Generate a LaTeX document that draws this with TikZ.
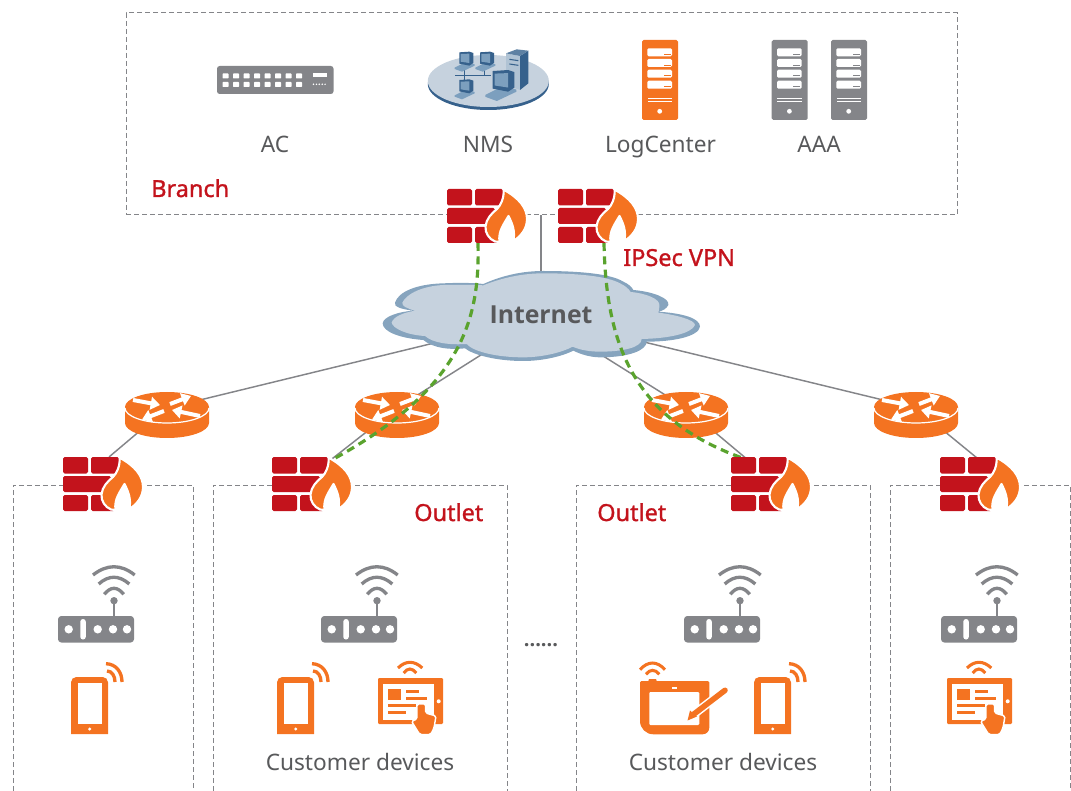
\documentclass[tikz,border=0pt]{standalone}
\usepackage{fontspec}
\setmainfont{Noto Sans}
\newfontfamily\medf[FakeBold=1.2]{Noto Sans}
\newfontfamily\boldf{Open Sans}
\usetikzlibrary{arrows.meta}
\definecolor{hworange}{HTML}{F47321}
\definecolor{hwred}{HTML}{C3131C}
\definecolor{hwgrey}{HTML}{848589}
\definecolor{hwtext}{HTML}{58595B}
\definecolor{hwgreen}{HTML}{5AA32E}
\definecolor{cloudlight}{HTML}{C6D2DE}
\definecolor{clouddark}{HTML}{86A4BE}
\definecolor{nmsdark}{HTML}{36618C}
\definecolor{nmsmid}{HTML}{7C9FBE}
\definecolor{nmslight}{HTML}{C6D2DE}
\tikzset{
 dashbox/.style={draw=hwgrey,line width=.75pt,dash pattern=on 3.4pt off 2.6pt},
 link/.style={draw=hwgrey,line width=1.1pt},
 vpn/.style={draw=hwgreen,line width=2.4pt,dash pattern=on 6pt off 4pt},
 lbl/.style={text=hwtext,font=\fontsize{17}{20}\selectfont,inner sep=0pt,anchor=base},
 redlbl/.style={text=hwred,font=\medf\fontsize{17.6}{20}\selectfont,inner sep=0pt,anchor=base west},
 wave/.style={line width=2.5pt,line cap=butt},
 fw/.pic={
  \begin{scope}[rounded corners=1.2pt]
  \fill[hwred] (0,0) rectangle (25,16.5);
  \fill[hwred] (28,0) rectangle (56,16.5);
  \fill[hwred] (0,19) rectangle (48,35);
  \fill[hwred] (0,38) rectangle (25,54);
  \fill[hwred] (28,38) rectangle (52,54);
  \end{scope}
  \filldraw[hworange,draw=white,line width=1.6pt,line join=round]
   (56.7,.7) .. controls (72,9) and (80,19) .. (80,30)
   .. controls (80,40) and (74,47) .. (66.5,52)
   .. controls (68,42) and (66,36) .. (61.5,27)
   .. controls (57,35) and (51,42) .. (52.5,53) -- (48,52.5)
   .. controls (42,50) and (38,44) .. (38.5,37.5)
   .. controls (39,30) and (45,24) .. (50,20)
   .. controls (54,16) and (57,9) .. (56.7,.7) -- cycle;
 },
 rtr/.pic={
  \fill[hworange] (-42,0) arc[start angle=180,end angle=360,x radius=42,y radius=15]
    -- (42,16) arc[start angle=0,end angle=180,x radius=42,y radius=15] -- cycle;
  \draw[white,line width=.9pt] (-42,1) arc[start angle=180,end angle=0,x radius=42,y radius=15];
  \begin{scope}[white,line width=3pt,-{Triangle[length=7pt,width=9.5pt]}]
   \draw (-34,-7) -- (-7,-2);
   \draw (33,9) -- (5,3);
   \draw (3,-3) -- (24,-11);
   \draw (-3,4) -- (-25,12.5);
  \end{scope}
 },
 srv/.pic={
  \fill[pic actions,rounded corners=1.2pt] (0,0) rectangle (36,80);
  \foreach \yy in {8.3,19,29.7,40.7}{
   \fill[white,rounded corners=1pt] (5.3,\yy) rectangle (30,\yy+8);
   \fill[pic actions] (21.7,\yy+5.6) rectangle (28.7,\yy+6.6);
  }
  \fill[white] (5.5,58) rectangle (30,59);
  \fill[white] (5.5,61) rectangle (30,62);
  \fill[white] (17.7,71.3) circle (2.4);
 },
 ap/.pic={
  \fill[hwgrey,rounded corners=2.5pt] (0,0) rectangle (76,26.5);
  \foreach \xx in {10.7,39.7,55,69}{\fill[white] (\xx,13.3) circle (4.2);}
  \fill[white,rounded corners=2pt] (22.3,3) rectangle (27.8,23.5);
  \draw[hwgrey,line width=1.1pt] (56,0) -- (56,-13);
  \fill[hwgrey] (56,-15.3) circle (3.7);
  \begin{scope}[hwgrey,wave]
  \draw (46.3,-21.7) .. controls (52.8,-29.7) and (59.2,-29.7) .. (65.7,-21.7);
  \draw (40.7,-32) .. controls (50.7,-41) and (61,-41) .. (71.3,-32);
  \draw (35,-41) .. controls (49,-52) and (63,-52) .. (76.7,-41);
  \end{scope}
 },
 phone/.pic={
  \fill[hworange] (0,57) -- (0,6) [rounded corners=4pt] -- (0,0) -- (37,0) [rounded corners=0pt] -- (37,57) -- cycle;
  \fill[white] (7,6) rectangle (31,47);
  \fill[white] (18.7,52) circle (1.7);
  \begin{scope}[hworange,wave]
  \draw (35,-13.3) .. controls (45,-13) and (51,-5) .. (51,5);
  \draw (36,-6) .. controls (41,-6) and (44,-1) .. (44,5);
  \end{scope}
 },
 tabl/.pic={
  \fill[hworange,rounded corners=.8pt] (0,0) rectangle (65,46);
  \fill[white] (5,5.7) rectangle (56,41.7);
  \fill[white] (60.7,23.3) circle (2);
  \fill[hworange] (10,11) rectangle (23.3,21.7);
  \fill[hworange] (28.3,12.3) rectangle (40.7,15);
  \fill[hworange] (28.3,19) rectangle (49.3,21.7);
  \fill[hworange] (10,26) rectangle (38.3,28.7);
  \fill[hworange] (10,33.3) rectangle (28.3,36);
  \filldraw[hworange,draw=white,line width=1.1pt,rounded corners=1.2pt]
   (39,41) -- (39,26) -- (47.7,26) -- (47.7,35) -- (58,38) -- (56,50) -- (52.7,56.5)
   -- (41.7,56.5) -- (33.5,43.3) -- cycle;
  \begin{scope}[hworange,wave,line width=2.3pt]
  \draw (20,-10) .. controls (27.7,-17.6) and (36.3,-17.6) .. (44.3,-10);
  \draw (25.7,-5) .. controls (29.7,-10.3) and (34,-10.3) .. (38.3,-5);
  \end{scope}
 },
 draw tablet/.pic={
  \fill[hworange] (0,4) [rounded corners=1pt] -- (0,0) -- (69.3,0) [rounded corners=5pt] -- (69.3,53.3) [rounded corners=10pt] -- (0,53.3) [rounded corners=0pt] -- cycle;
  \fill[white,rounded corners=.8pt] (9.3,11) rectangle (59.3,44);
  \fill[white] (31.5,5.8) rectangle (36.5,7.6);
  \fill[hworange] (8,1) -- (9,-2) -- (16,-2) -- (17,1) -- cycle;
  \draw[white,line width=6.5pt] (86,8.6) -- (54,33);
  \draw[hworange,line width=4.2pt,line cap=round] (85,9.3) -- (54,33);
  \fill[hworange] (57,35.5) -- (47.5,39.5) -- (50,29.5) -- cycle;
  \begin{scope}[hworange,wave,line width=2.3pt]
  \draw (0,-11.3) .. controls (8,-20.2) and (17,-20.2) .. (25,-11.3);
  \draw (6,-6.7) .. controls (10,-12) and (15,-12) .. (19.3,-6.7);
  \end{scope}
 },
 pc/.pic={
  \fill[nmsmid] (-14,48) -- (22,30) -- (46,38) -- (46,42) -- (8,60) -- (-14,52) -- cycle;
  \fill[nmsdark] (0,2) -- (30,0) -- (42,4) -- (42,34) -- (30,42) -- (0,36) -- cycle;
  \fill[nmsmid] (4,7) -- (30,6) -- (30,34) -- (4,30) -- cycle;
 }
}
\begin{document}
\begin{tikzpicture}[x=.75pt,y=-.75pt]
\useasboundingbox (0,0) rectangle (1071,791);

% dashed regions
\node[dashbox,minimum width=623.25pt,minimum height=151.5pt,inner sep=0pt] (branch) at (541.5,114) {};
\draw[dashbox] (13,791) -- (13,485) -- (193,485) -- (193,791);
\draw[dashbox] (213,791) -- (213,485) -- (507,485) -- (507,791);
\draw[dashbox] (576,791) -- (576,485) -- (870,485) -- (870,791);
\draw[dashbox] (890,791) -- (890,485) -- (1070,485) -- (1070,791);

% anchor points
\coordinate (cloudc) at (541,317);
\coordinate (r1) at (167,408);
\coordinate (r2) at (397,408);
\coordinate (r3) at (686,408);
\coordinate (r4) at (916,408);
\coordinate (f1) at (109,457);
\coordinate (f2) at (328,462);
\coordinate (f3) at (748,460);
\coordinate (f4) at (977,458);
\coordinate (fa) at (478,243);
\coordinate (fb) at (604,243);

% connectors
\draw[link] (branch.south -| cloudc) -- (cloudc);
\draw[link] (cloudc) -- (r1);
\draw[link] (cloudc) -- (r2);
\draw[link] (cloudc) -- (r3);
\draw[link] (cloudc) -- (r4);
\draw[link] (r1) -- (f1);
\draw[link] (r2) -- (f2);
\draw[link] (r3) -- (f3);
\draw[link] (r4) -- (f4);

% cloud
\begin{scope}[shift={(370,270)},x=.25pt,y=-.25pt]
\fill[clouddark] (340,42) .. controls (400,15) and (460,3) .. (520,3)
 .. controls (620,3) and (720,10) .. (760,35) .. controls (775,42) and (785,50) .. (790,60)
 .. controls (850,65) and (900,85) .. (895,105) .. controls (890,115) and (880,122) .. (865,125)
 .. controls (940,130) and (990,145) .. (990,170) .. controls (985,200) and (910,215) .. (830,215)
 .. controls (830,240) and (780,262) .. (690,262) .. controls (660,262) and (630,252) .. (610,242)
 .. controls (570,262) and (510,273) .. (460,273) .. controls (380,273) and (310,255) .. (285,235)
 .. controls (240,240) and (190,235) .. (160,210)
 .. controls (90,205) and (38,185) .. (38,160) .. controls (40,140) and (85,125) .. (130,122)
 .. controls (95,118) and (70,110) .. (75,98) .. controls (85,65) and (140,42) .. (220,40)
 .. controls (260,38) and (310,38) .. (340,42) -- cycle;
\fill[cloudlight] (340,46) .. controls (400,22) and (460,10) .. (520,10)
 .. controls (620,10) and (710,18) .. (750,40) .. controls (765,47) and (775,55) .. (782,66)
 .. controls (830,70) and (870,88) .. (868,105) .. controls (868,112) and (868,120) .. (865,128)
 .. controls (920,135) and (975,150) .. (975,165) .. controls (965,190) and (900,205) .. (815,207)
 .. controls (815,232) and (760,245) .. (690,245) .. controls (660,245) and (630,240) .. (608,230)
 .. controls (570,250) and (510,262) .. (460,262) .. controls (380,262) and (310,245) .. (290,222)
 .. controls (240,225) and (190,220) .. (165,198)
 .. controls (110,195) and (68,175) .. (65,158) .. controls (70,140) and (100,128) .. (135,122)
 .. controls (110,115) and (95,108) .. (97,98) .. controls (110,70) and (160,48) .. (220,45)
 .. controls (260,44) and (310,44) .. (340,46) -- cycle;
\end{scope}
\node[text=hwtext,font=\boldf\bfseries\fontsize{18.6}{22}\selectfont,inner sep=0pt] (internet) at (541,315) {Internet};

% routers
\pic at (167,407) {rtr};
\pic at (397,407) {rtr};
\pic at (686,407) {rtr};
\pic at (916,407) {rtr};

% vpn tunnels
\draw[vpn] (fa) .. controls (480,320) and (462,390) .. (f2);
\draw[vpn] (fb) .. controls (606,340) and (630,420) .. (f3);

% firewalls
\pic at (447,189) {fw};
\pic at (558,189) {fw};
\pic at (63,457) {fw};
\pic at (272,457) {fw};
\pic at (731,457) {fw};
\pic at (940,457) {fw};

% AC
\fill[hwgrey,rounded corners=2pt] (217,66) rectangle (333.5,94);
\foreach \cc in {0,...,7}{
 \fill[white,rounded corners=.5pt] (222.5+10.5*\cc,73.5) rectangle (228.5+10.5*\cc,78.5);
 \fill[white,rounded corners=.5pt] (222.5+10.5*\cc,82) rectangle (228.5+10.5*\cc,87);
}
\fill[white] (312.7,72.7) rectangle (327,76.7);
\foreach \cc in {0,...,4}{\fill[white] (313.5+2.9*\cc,84.3) circle (.85);}

% NMS
\fill[nmsdark] (488.3,84) ellipse[x radius=60.5,y radius=26];
\fill[nmslight] (488.3,81) ellipse[x radius=60.5,y radius=26];
\begin{scope}[shift={(200,20)},x=.25pt,y=-.25pt]
 \draw[nmsdark,line width=1pt] (765,166) -- (872,166);
 \draw[nmsdark,line width=.8pt] (793,140) -- (793,180);
 \draw[nmsdark,line width=.8pt] (853,140) -- (853,166);
 \fill[nmslight!70!nmsmid] (918,100) -- (960,108) -- (960,210) -- (918,195) -- cycle;
 \fill[nmsdark] (960,108) -- (985,92) -- (985,190) -- (960,210) -- cycle;
 \fill[nmsdark!80!white] (918,100) -- (950,88) -- (985,92) -- (960,108) -- cycle;
 \draw[nmsdark,line width=.8pt] (928,118) -- (955,122);
 \draw[nmsdark,line width=.8pt] (928,132) -- (955,136);
 \pic at (778,95) {pc};
 \pic at (840,95) {pc};
 \pic at (778,178) {pc};
 \pic[scale=1.55] at (878,150) {pc};
\end{scope}

% servers
\pic[hworange] at (642,40) {srv};
\pic[hwgrey] at (771.7,40) {srv};
\pic[hwgrey] at (831,40) {srv};

% access points
\pic at (58,616) {ap};
\pic at (321,616) {ap};
\pic at (684,616) {ap};
\pic at (941,616) {ap};

% devices
\pic at (71,677) {phone};
\pic at (277,677) {phone};
\pic at (378,678) {tabl};
\pic at (640,681) {draw tablet};
\pic at (754,677) {phone};
\pic at (947,678) {tabl};

% labels
\node[lbl] (ac) at (275,153) {AC};
\node[lbl] (nms) at (488,153) {NMS};
\node[lbl] (log) at (660.5,153) {LogCenter};
\node[lbl] (aaa) at (819,153) {AAA};
\node[redlbl] (blbl) at (151,197) {Branch};
\node[redlbl] (ipsec) at (623,266) {IPSec VPN};
\node[redlbl] (o1) at (414,521) {Outlet};
\node[redlbl] (o2) at (597,521) {Outlet};
\node[lbl] (c1) at (360,770) {Customer devices};
\node[lbl] (c2) at (723,770) {Customer devices};
\node[text=hwtext,font=\boldf\bfseries\fontsize{15}{18}\selectfont,inner sep=0pt] (dots) at (541,645) {......};
\end{tikzpicture}
\end{document}
